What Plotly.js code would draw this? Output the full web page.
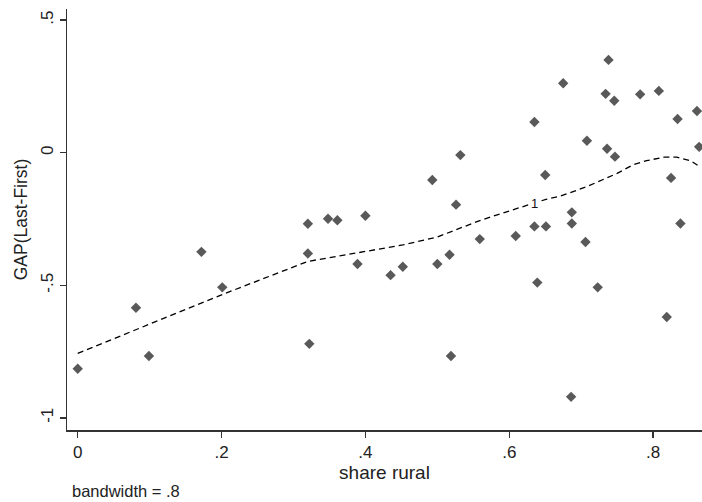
<!DOCTYPE html>
<html>
<head>
<meta charset="utf-8">
<script src="https://cdn.plot.ly/plotly-3.0.1.min.js"></script>
<style>html,body{margin:0;padding:0;background:#fff;}#chart{width:702px;height:502px;}</style>
</head>
<body>
<div id="chart"></div>
<script>
var shareRural = [0, 0.081, 0.099, 0.172, 0.201, 0.320, 0.320, 0.322, 0.348, 0.361, 0.389, 0.400, 0.435, 0.452, 0.493, 0.500, 0.517, 0.519, 0.526, 0.532, 0.559, 0.609, 0.635, 0.635, 0.639, 0.650, 0.651, 0.675, 0.686, 0.687, 0.687, 0.706, 0.708, 0.723, 0.734, 0.736, 0.738, 0.746, 0.747, 0.782, 0.808, 0.819, 0.825, 0.834, 0.838, 0.861, 0.864];
var gap = [-0.815, -0.585, -0.767, -0.374, -0.508, -0.268, -0.380, -0.721, -0.249, -0.255, -0.420, -0.238, -0.462, -0.430, -0.103, -0.420, -0.385, -0.767, -0.196, -0.009, -0.326, -0.314, 0.116, -0.278, -0.490, -0.084, -0.278, 0.262, -0.921, -0.225, -0.267, -0.337, 0.045, -0.508, 0.222, 0.015, 0.350, 0.196, -0.015, 0.220, 0.233, -0.620, -0.095, 0.127, -0.267, 0.157, 0.022];
var lowessX = [0, 0.081, 0.099, 0.172, 0.201, 0.320, 0.361, 0.400, 0.452, 0.500, 0.532, 0.559, 0.609, 0.635, 0.651, 0.671, 0.708, 0.750, 0.772, 0.791, 0.815, 0.833, 0.852, 0.865];
var lowessY = [-0.757, -0.667, -0.646, -0.565, -0.535, -0.410, -0.390, -0.372, -0.348, -0.318, -0.285, -0.256, -0.212, -0.190, -0.176, -0.164, -0.128, -0.078, -0.046, -0.030, -0.017, -0.017, -0.030, -0.053];
var xTickVals = [0, 0.2, 0.4, 0.6, 0.8];
var xTickText = ['0', '.2', '.4', '.6', '.8'];
var yTickVals = [-1, -0.5, 0, 0.5];
var yTickText = ['-1', '-.5', '0', '.5'];
var xLabel = 'share rural';
var yLabel = 'GAP(Last-First)';
var note = 'bandwidth = .8';
var curveMark = {x: 0.635, y: -0.19, text: '1'};

var font = 'Liberation Sans, Arial, sans-serif';
var traces = [
  {x: shareRural, y: gap, mode: 'markers', type: 'scatter',
   marker: {symbol: 'diamond', size: 8, color: '#595959'}, hoverinfo: 'x+y'},
  {x: lowessX, y: lowessY, mode: 'lines', type: 'scatter',
   line: {color: '#000', width: 1.3, dash: '6px,4px'}, hoverinfo: 'skip'}
];
var layout = {
  width: 702, height: 502,
  margin: {l: 67, r: 0, t: 9, b: 72},
  paper_bgcolor: '#fff', plot_bgcolor: '#fff',
  showlegend: false,
  font: {family: font, color: '#222', size: 16},
  xaxis: {range: [-0.0149, 0.868], tickvals: xTickVals, ticktext: xTickText,
    showgrid: false, zeroline: false, showline: true, linecolor: '#333', linewidth: 1.5,
    ticks: 'outside', ticklen: 6, tickwidth: 1.5, tickcolor: '#333',
    tickfont: {size: 17, family: font, color: '#222'},
    title: {text: xLabel, font: {size: 19, family: font, color: '#222'}, standoff: 0}},
  yaxis: {range: [-1.046, 0.542], tickvals: yTickVals, ticktext: yTickText,
    showgrid: false, zeroline: false, showline: true, linecolor: '#333', linewidth: 1.5,
    ticks: 'outside', ticklen: 6, tickwidth: 1.5, tickcolor: '#333', tickangle: -90,
    tickfont: {size: 17, family: font, color: '#222'},
    title: {text: yLabel, font: {size: 17.5, family: font, color: '#222'}, standoff: 5}},
  annotations: [
    {x: curveMark.x, y: curveMark.y, xref: 'x', yref: 'y', text: curveMark.text, showarrow: false,
     bgcolor: '#fff', borderpad: 0, font: {size: 13, family: font, color: '#111'}},
    {x: (70 - 67) / 635, y: -(491 - 430) / 421, xref: 'paper', yref: 'paper',
     xanchor: 'left', yanchor: 'middle', text: note, showarrow: false,
     font: {size: 16.5, family: font, color: '#222'}}
  ]
};
Plotly.newPlot('chart', traces, layout, {displayModeBar: false, staticPlot: true});
</script>
</body>
</html>
